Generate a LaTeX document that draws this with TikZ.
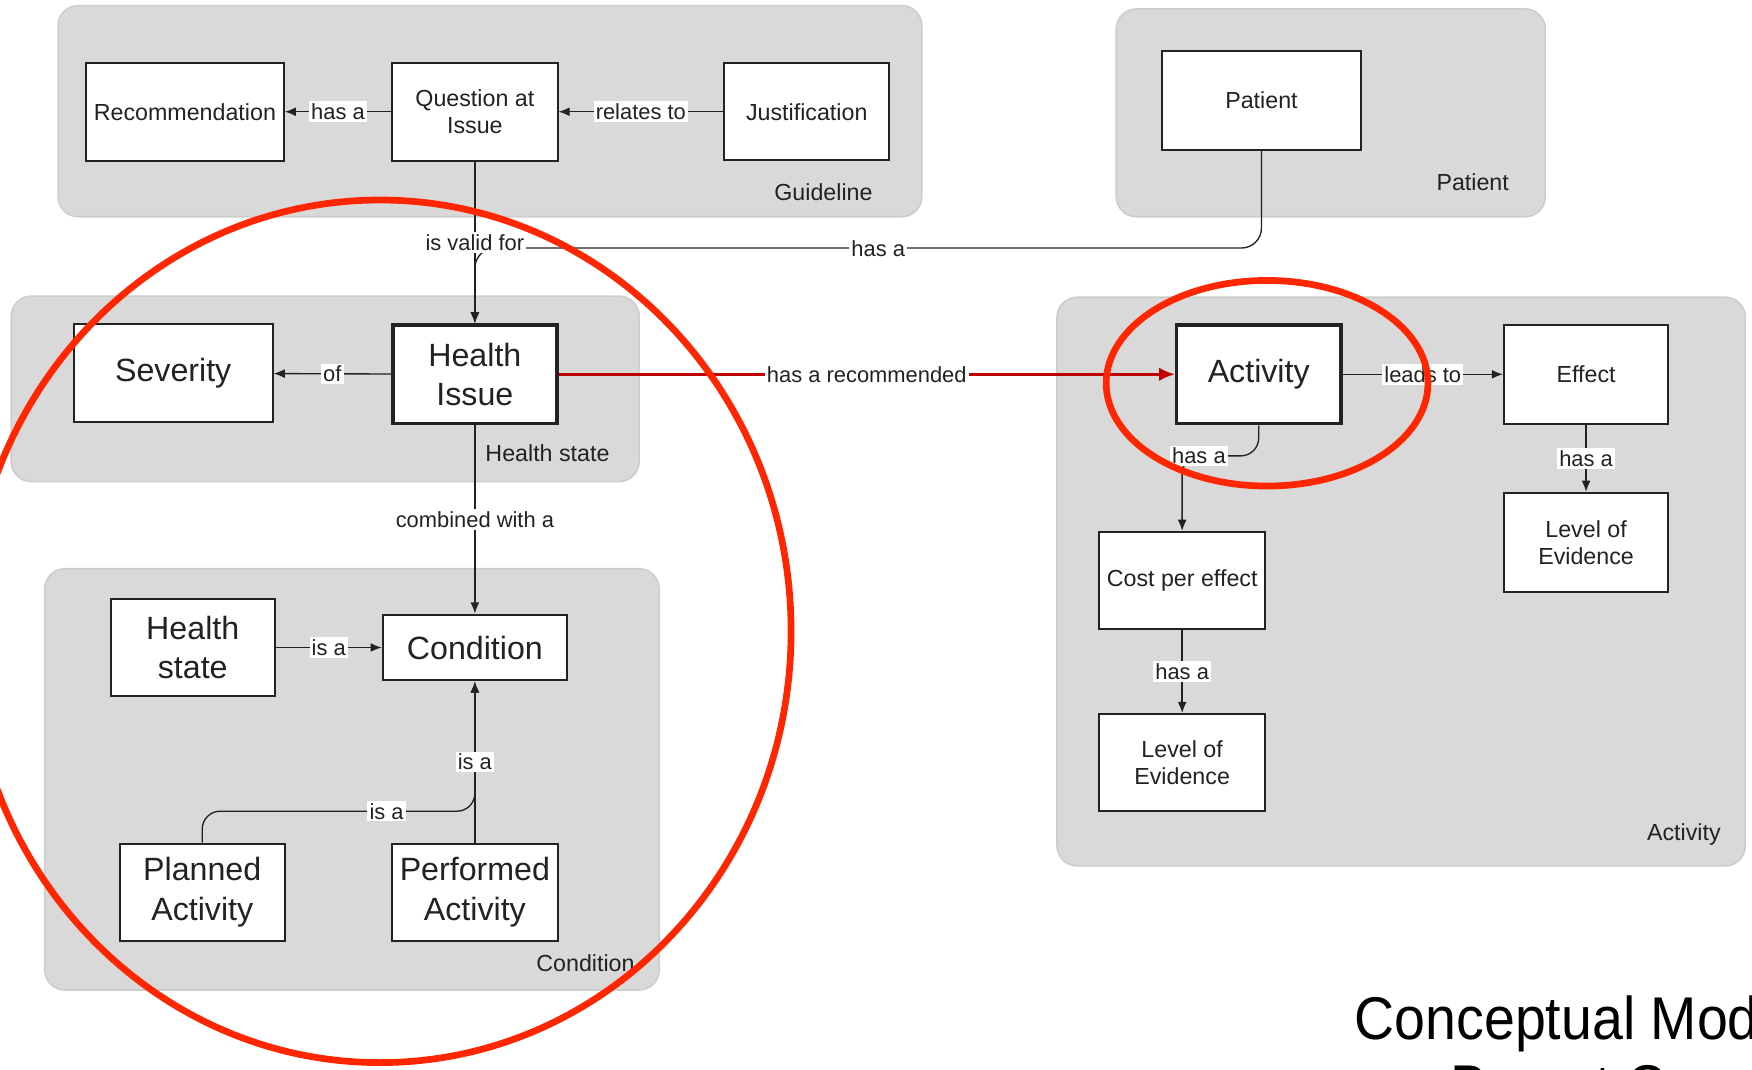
\documentclass[tikz,border=0pt]{standalone}
\usepackage{fontspec}
\setmainfont{Liberation Sans}
\usetikzlibrary{arrows.meta}
\definecolor{grpfill}{HTML}{D9D9D9}
\definecolor{grpline}{HTML}{CDCDCD}
\definecolor{txt}{HTML}{222222}
\definecolor{annot}{HTML}{FF2600}
\definecolor{relred}{HTML}{C00000}
\tikzset{
 grp/.style={fill=grpfill, draw=grpline, line width=0.7pt, rounded corners=9pt},
 grplbl/.style={font=\fontsize{10.4}{12}\selectfont, text=txt, inner sep=0pt},
 box/.style={draw=txt, fill=white, line width=0.9pt, align=center, text=txt, font=\fontsize{10.4}{12.2}\selectfont, inner sep=1pt},
 bigbox/.style={box, font=\fontsize{14.4}{17.5}\selectfont},
 keybox/.style={bigbox, line width=1.6pt},
 rel/.style={draw=txt, line width=0.6pt, -{Latex[length=5pt,width=4pt]}},
 redrel/.style={draw=relred, line width=1.1pt, -{Latex[length=7pt,width=6pt]}},
 lbl/.style={fill=white, inner sep=1pt, text=txt, font=\fontsize{9.8}{11}\selectfont},
 ring/.style={draw=annot, line width=3pt},
 titletext/.style={anchor=base west, inner sep=0pt, font=\fontsize{27}{33}\selectfont, xscale=0.92, transform shape},
}
\begin{document}
\begin{tikzpicture}[x=0.5pt,y=-0.5pt]
\useasboundingbox (0,0) rectangle (1568,957);
\clip (0,0) rectangle (1568,957);

% groups
\draw[grp] (52,5) rectangle (825,194);
\node[grplbl] (gl1) at (737,172) {Guideline};
\draw[grp] (999,8) rectangle (1383,194);
\node[grplbl] (gl2) at (1318,163) {Patient};
\draw[grp] (10,265) rectangle (572,431);
\node[grplbl] (gl3) at (490,406) {Health state};
\draw[grp] (946,266) rectangle (1562,775);
\node[grplbl] (gl4) at (1507,747) {Activity};
\draw[grp] (40,509) rectangle (590,886);
\node[grplbl] (gl5) at (524,862) {Condition};

% boxes
\node[box, minimum width=88.5pt, minimum height=44pt] (rec) at (165.5,100) {Recommendation};
\node[box, minimum width=74pt, minimum height=44pt] (qai) at (425,100) {Question at\\Issue};
\node[box, minimum width=74pt, minimum height=43.5pt] (just) at (722,100) {Justification};
\node[box, minimum width=89pt, minimum height=44pt] (pat) at (1129,90) {Patient};
\node[bigbox, minimum width=89pt, minimum height=44pt] (sev) at (155,334) {Severity};
\node[keybox, minimum width=73.5pt, minimum height=44pt] (hi) at (425,335) {Health\\Issue};
\node[keybox, minimum width=73.5pt, minimum height=44pt] (act) at (1126.5,335) {Activity};
\node[box, minimum width=73.5pt, minimum height=44.5pt] (eff) at (1419.5,335) {Effect};
\node[box, minimum width=73.5pt, minimum height=44.5pt] (loe1) at (1419.5,485.5) {Level of\\Evidence};
\node[box, minimum width=74pt, minimum height=43.5pt] (cost) at (1058,519.5) {Cost per effect};
\node[box, minimum width=74pt, minimum height=43.5pt] (loe2) at (1058,682.5) {Level of\\Evidence};
\node[bigbox, minimum width=73.5pt, minimum height=43.5pt] (hs) at (172.5,579.5) {Health\\state};
\node[bigbox, minimum width=82.5pt, minimum height=29.5pt] (cond) at (425,579.5) {Condition};
\node[bigbox, minimum width=74pt, minimum height=43.5pt] (plan) at (181,798.5) {Planned\\Activity};
\node[bigbox, minimum width=74pt, minimum height=43.5pt] (perf) at (425,798.5) {Performed\\Activity};

% connectors
\draw[rel] (qai) -- node[lbl] (e1) {has a} (rec);
\draw[rel] (just) -- node[lbl] (e2) {relates to} (qai);
\draw[rel, rounded corners=9pt] (pat.south) |- (425,222) -- (hi.north);
\node[lbl] (e3) at (786,223) {has a};
\draw[rel] (qai) -- node[lbl] (e4) {is valid for} (hi);
\draw[rel] (hi) -- node[lbl] (e5) {of} (sev);
\draw[redrel] (hi) -- node[lbl] (e6) {has a recommended} (act);
\draw[rel] (hi) -- node[lbl] (e7) {combined with a} (cond);
\draw[rel] (hs) -- node[lbl] (e8) {is a} (cond);
\draw[rel, rounded corners=8pt] (plan.north) |- (425,726) -- (cond.south);
\node[lbl] (e9) at (346,726) {is a};
\draw[rel] (perf) -- node[lbl] (e10) {is a} (cond);
\draw[rel] (act) -- node[lbl] (e11) {leads to} (eff);
\draw[rel] (eff) -- node[lbl] (e12) {has a} (loe1);
\draw[rel, rounded corners=8pt] (act.south) |- (1058,408) -- (cost.north);
\node[lbl] (e13) at (1073,408) {has a};
\draw[rel] (cost) -- node[lbl] (e14) {has a} (loe2);

% annotations
\draw[ring] (340,565) ellipse [x radius=184pt, y radius=193pt];
\draw[ring] (1134,343) ellipse [x radius=72pt, y radius=46pt];

% title
\node[titletext] (t1) at (1212,930) {Conceptual Model};
\node[titletext] (t2) at (1298,991) {Breast Cancer};
\end{tikzpicture}
\end{document}
